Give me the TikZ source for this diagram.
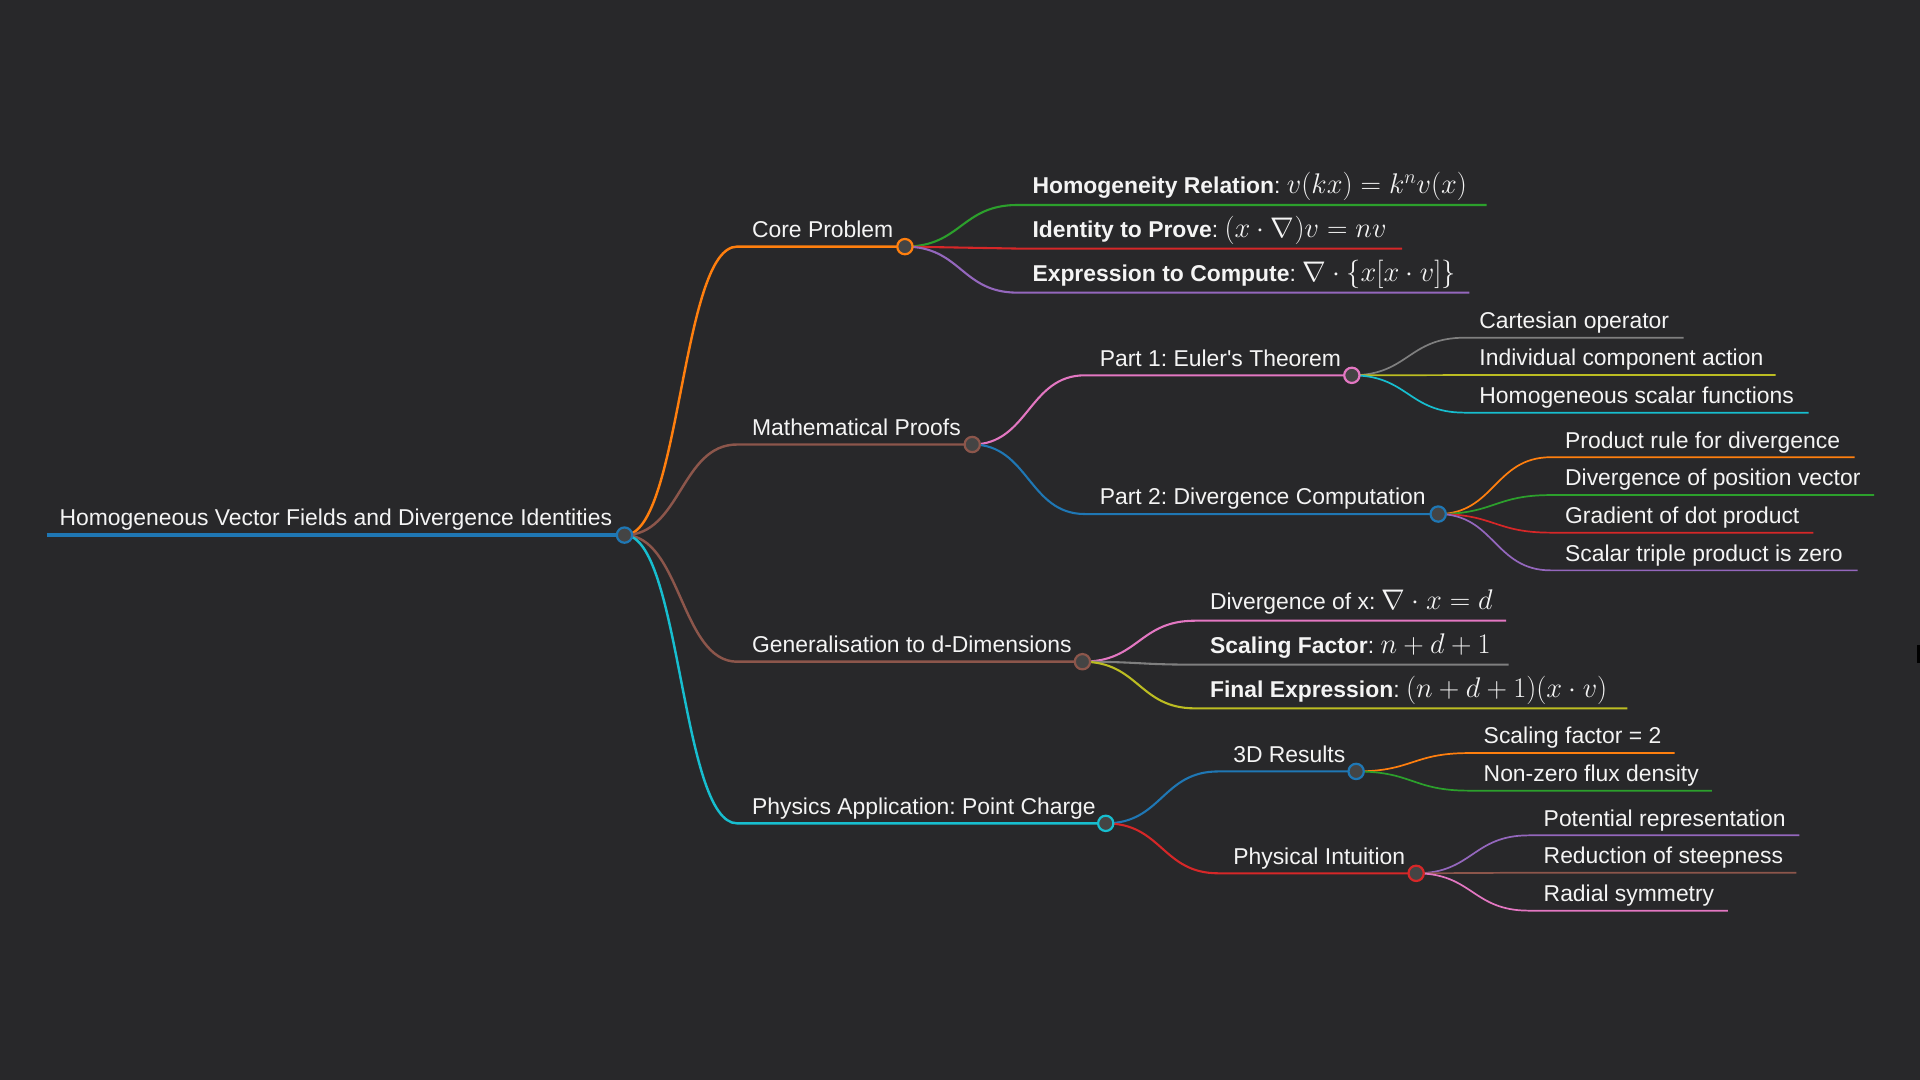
\RequirePackage{fix-cm}
\documentclass[tikz,border=0pt]{standalone}
\usepackage[no-math]{fontspec}
\setmainfont{Liberation Sans}
\usepackage{tikz}
\usetikzlibrary{backgrounds}
\frenchspacing
\definecolor{bgcol}{HTML}{28282A}
\definecolor{dotfill}{HTML}{444444}
\definecolor{txtcol}{HTML}{F4F4F4}
\definecolor{cblue}{HTML}{1F77B4}
\definecolor{corange}{HTML}{FF7F0E}
\definecolor{cgreen}{HTML}{2CA02C}
\definecolor{cred}{HTML}{D62728}
\definecolor{cpurple}{HTML}{9467BD}
\definecolor{cbrown}{HTML}{8C564B}
\definecolor{cpink}{HTML}{E377C2}
\definecolor{cgray}{HTML}{7F7F7F}
\definecolor{colive}{HTML}{BCBD22}
\definecolor{ccyan}{HTML}{17BECF}
\newcommand{\mmfont}{\fontsize{18.7}{22}\selectfont}
\newcommand{\mathlbl}[1]{{\fontsize{23.2}{27}\selectfont$#1$}}
\tikzstyle{mmdot}=[circle, fill=dotfill, line width=1.8pt, minimum size=12.5pt, inner sep=0pt]
\tikzstyle{mmlabel}=[anchor=base west, inner sep=0pt, text=txtcol, font=\mmfont]
\tikzstyle{rootline}=[line width=2.8pt]
\tikzstyle{mmlink1}=[line width=2pt]
\tikzstyle{mmlink2}=[line width=1.7pt]
\tikzstyle{mmlink3}=[line width=1.4pt]

\begin{document}
\begin{tikzpicture}[x=1pt,y=-1pt]

\begin{scope}[on background layer]
\fill[bgcol] (0,0) rectangle (1568,882);
\end{scope}
\useasboundingbox (0,0) rectangle (1568,882);
\fill[black] (1565.5,527) rectangle (1568,541.5);

% root
\coordinate (rootbeg) at (38,437);
\node (root) [mmdot, draw=cblue] at (510,437) {};
\node (roott) [mmlabel] at (48.5,429.5) {Homogeneous Vector Fields and Divergence Identities};

% Core Problem
\node (core) [mmdot, draw=corange] at (739,201.4) {};
\coordinate (cores) at (602,201.4);
\node (coret) [mmlabel] at (614,193.9) {Core Problem};
\coordinate (homs) at (831,167.4);  \coordinate (home) at (1214,167.4);
\coordinate (idts) at (831,203);    \coordinate (idte) at (1145,203);
\coordinate (exps) at (831,239);    \coordinate (expe) at (1200,239);
\node (homt) [mmlabel] at (843,158) {\textbf{Homogeneity Relation}: \mathlbl{v(kx) = k^n v(x)}};
\node (idtt) [mmlabel] at (843,193.8) {\textbf{Identity to Prove}: \mathlbl{(x \cdot \nabla)v = nv}};
\node (expt) [mmlabel] at (843,229.8) {\textbf{Expression to Compute}: \mathlbl{\nabla \cdot \{x[x \cdot v]\}}};

% Mathematical Proofs
\node (proofs) [mmdot, draw=cbrown] at (794,363) {};
\coordinate (proofss) at (602,363);
\node (proofst) [mmlabel] at (614,355.5) {Mathematical Proofs};

\node (part1) [mmdot, draw=cpink] at (1104,306.5) {};
\coordinate (part1s) at (886,306.5);
\node (part1t) [mmlabel] at (898,299) {Part 1: Euler\textquotesingle s Theorem};
\coordinate (carts) at (1196,275.8);  \coordinate (carte) at (1375,275.8);
\coordinate (indis) at (1196,306.3);  \coordinate (indie) at (1450,306.3);
\coordinate (hscas) at (1196,337);    \coordinate (hscae) at (1477,337);
\node (cartt) [mmlabel] at (1208,268.3) {Cartesian operator};
\node (indit) [mmlabel] at (1208,298.8) {Individual component action};
\node (hscat) [mmlabel] at (1208,329.5) {Homogeneous scalar functions};

\node (part2) [mmdot, draw=cblue] at (1174.5,419.8) {};
\coordinate (part2s) at (886,419.8);
\node (part2t) [mmlabel] at (898,412.3) {Part 2: Divergence Computation};
\coordinate (prods) at (1266.5,373.4);  \coordinate (prode) at (1514.5,373.4);
\coordinate (dposs) at (1266.5,404.3);  \coordinate (dpose) at (1530.6,404.3);
\coordinate (grads) at (1266.5,435);    \coordinate (grade) at (1481,435);
\coordinate (trips) at (1266.5,465.8);  \coordinate (tripe) at (1517,465.8);
\node (prodt) [mmlabel] at (1278,365.9) {Product rule for divergence};
\node (dpost) [mmlabel] at (1278,396.8) {Divergence of position vector};
\node (gradt) [mmlabel] at (1278,427.5) {Gradient of dot product};
\node (tript) [mmlabel] at (1278,458.3) {Scalar triple product is zero};

% Generalisation
\node (gen) [mmdot, draw=cbrown] at (884,540.4) {};
\coordinate (gens) at (602,540.4);
\node (gent) [mmlabel] at (614,532.9) {Generalisation to d-Dimensions};
\coordinate (divxs) at (976,506.9);  \coordinate (divxe) at (1230,506.9);
\coordinate (scals) at (976,542.8);  \coordinate (scale) at (1232,542.8);
\coordinate (fins) at (976,578.5);   \coordinate (fine) at (1329,578.5);
\node (divxt) [mmlabel] at (988,497.9) {Divergence of x: \mathlbl{\nabla \cdot x = d}};
\node (scalt) [mmlabel] at (988,533.8) {\textbf{Scaling Factor}: \mathlbl{n+d+1}};
\node (fint) [mmlabel] at (988,569.3) {\textbf{Final Expression}: \mathlbl{(n+d+1)(x \cdot v)}};

% Physics
\node (phys) [mmdot, draw=ccyan] at (903,672.4) {};
\coordinate (physs) at (602,672.4);
\node (physt) [mmlabel] at (614,664.9) {Physics Application: Point Charge};

\node (res) [mmdot, draw=cblue] at (1107.5,630) {};
\coordinate (ress) at (995,630);
\node (rest) [mmlabel] at (1007,622.5) {3D Results};
\coordinate (sfs) at (1199.5,615);     \coordinate (sfe) at (1367.5,615);
\coordinate (flxs) at (1199.5,645.7);  \coordinate (flxe) at (1398,645.7);
\node (sft) [mmlabel] at (1211.5,607.5) {Scaling factor = 2};
\node (flxt) [mmlabel] at (1211.5,638.2) {Non-zero flux density};

\node (intu) [mmdot, draw=cred] at (1156.5,713.2) {};
\coordinate (intus) at (995,713.2);
\node (intut) [mmlabel] at (1007,705.7) {Physical Intuition};
\coordinate (pots) at (1248.5,682.2);  \coordinate (pote) at (1469.5,682.2);
\coordinate (reds) at (1248.5,712.7);  \coordinate (rede) at (1467,712.7);
\coordinate (rads) at (1248.5,743.7);  \coordinate (rade) at (1411,743.7);
\node (pott) [mmlabel] at (1260.5,674.7) {Potential representation};
\node (redt) [mmlabel] at (1260.5,705.2) {Reduction of steepness};
\node (radt) [mmlabel] at (1260.5,736.2) {Radial symmetry};

\begin{scope}[on background layer]
\draw [rootline, cblue] (rootbeg) -- (root.center);

\draw [mmlink1, corange] (root.center) .. controls +(46,0) and +(-46,0) .. (cores) -- (core.center);
\draw [mmlink1, cbrown] (root.center) .. controls +(46,0) and +(-46,0) .. (proofss) -- (proofs.center);
\draw [mmlink1, cbrown] (root.center) .. controls +(46,0) and +(-46,0) .. (gens) -- (gen.center);
\draw [mmlink1, ccyan] (root.center) .. controls +(46,0) and +(-46,0) .. (physs) -- (phys.center);

\draw [mmlink2, cgreen] (core.center) .. controls +(46,0) and +(-46,0) .. (homs) -- (home);
\draw [mmlink2, cred] (core.center) .. controls +(46,0) and +(-46,0) .. (idts) -- (idte);
\draw [mmlink2, cpurple] (core.center) .. controls +(46,0) and +(-46,0) .. (exps) -- (expe);

\draw [mmlink2, cpink] (proofs.center) .. controls +(46,0) and +(-46,0) .. (part1s) -- (part1.center);
\draw [mmlink2, cblue] (proofs.center) .. controls +(46,0) and +(-46,0) .. (part2s) -- (part2.center);

\draw [mmlink3, cgray] (part1.center) .. controls +(46,0) and +(-46,0) .. (carts) -- (carte);
\draw [mmlink3, colive] (part1.center) .. controls +(46,0) and +(-46,0) .. (indis) -- (indie);
\draw [mmlink3, ccyan] (part1.center) .. controls +(46,0) and +(-46,0) .. (hscas) -- (hscae);

\draw [mmlink3, corange] (part2.center) .. controls +(46,0) and +(-46,0) .. (prods) -- (prode);
\draw [mmlink3, cgreen] (part2.center) .. controls +(46,0) and +(-46,0) .. (dposs) -- (dpose);
\draw [mmlink3, cred] (part2.center) .. controls +(46,0) and +(-46,0) .. (grads) -- (grade);
\draw [mmlink3, cpurple] (part2.center) .. controls +(46,0) and +(-46,0) .. (trips) -- (tripe);

\draw [mmlink2, cpink] (gen.center) .. controls +(46,0) and +(-46,0) .. (divxs) -- (divxe);
\draw [mmlink2, cgray] (gen.center) .. controls +(46,0) and +(-46,0) .. (scals) -- (scale);
\draw [mmlink2, colive] (gen.center) .. controls +(46,0) and +(-46,0) .. (fins) -- (fine);

\draw [mmlink2, cblue] (phys.center) .. controls +(46,0) and +(-46,0) .. (ress) -- (res.center);
\draw [mmlink2, cred] (phys.center) .. controls +(46,0) and +(-46,0) .. (intus) -- (intu.center);

\draw [mmlink3, corange] (res.center) .. controls +(46,0) and +(-46,0) .. (sfs) -- (sfe);
\draw [mmlink3, cgreen] (res.center) .. controls +(46,0) and +(-46,0) .. (flxs) -- (flxe);

\draw [mmlink3, cpurple] (intu.center) .. controls +(46,0) and +(-46,0) .. (pots) -- (pote);
\draw [mmlink3, cbrown] (intu.center) .. controls +(46,0) and +(-46,0) .. (reds) -- (rede);
\draw [mmlink3, cpink] (intu.center) .. controls +(46,0) and +(-46,0) .. (rads) -- (rade);
\end{scope}

\end{tikzpicture}
\end{document}
